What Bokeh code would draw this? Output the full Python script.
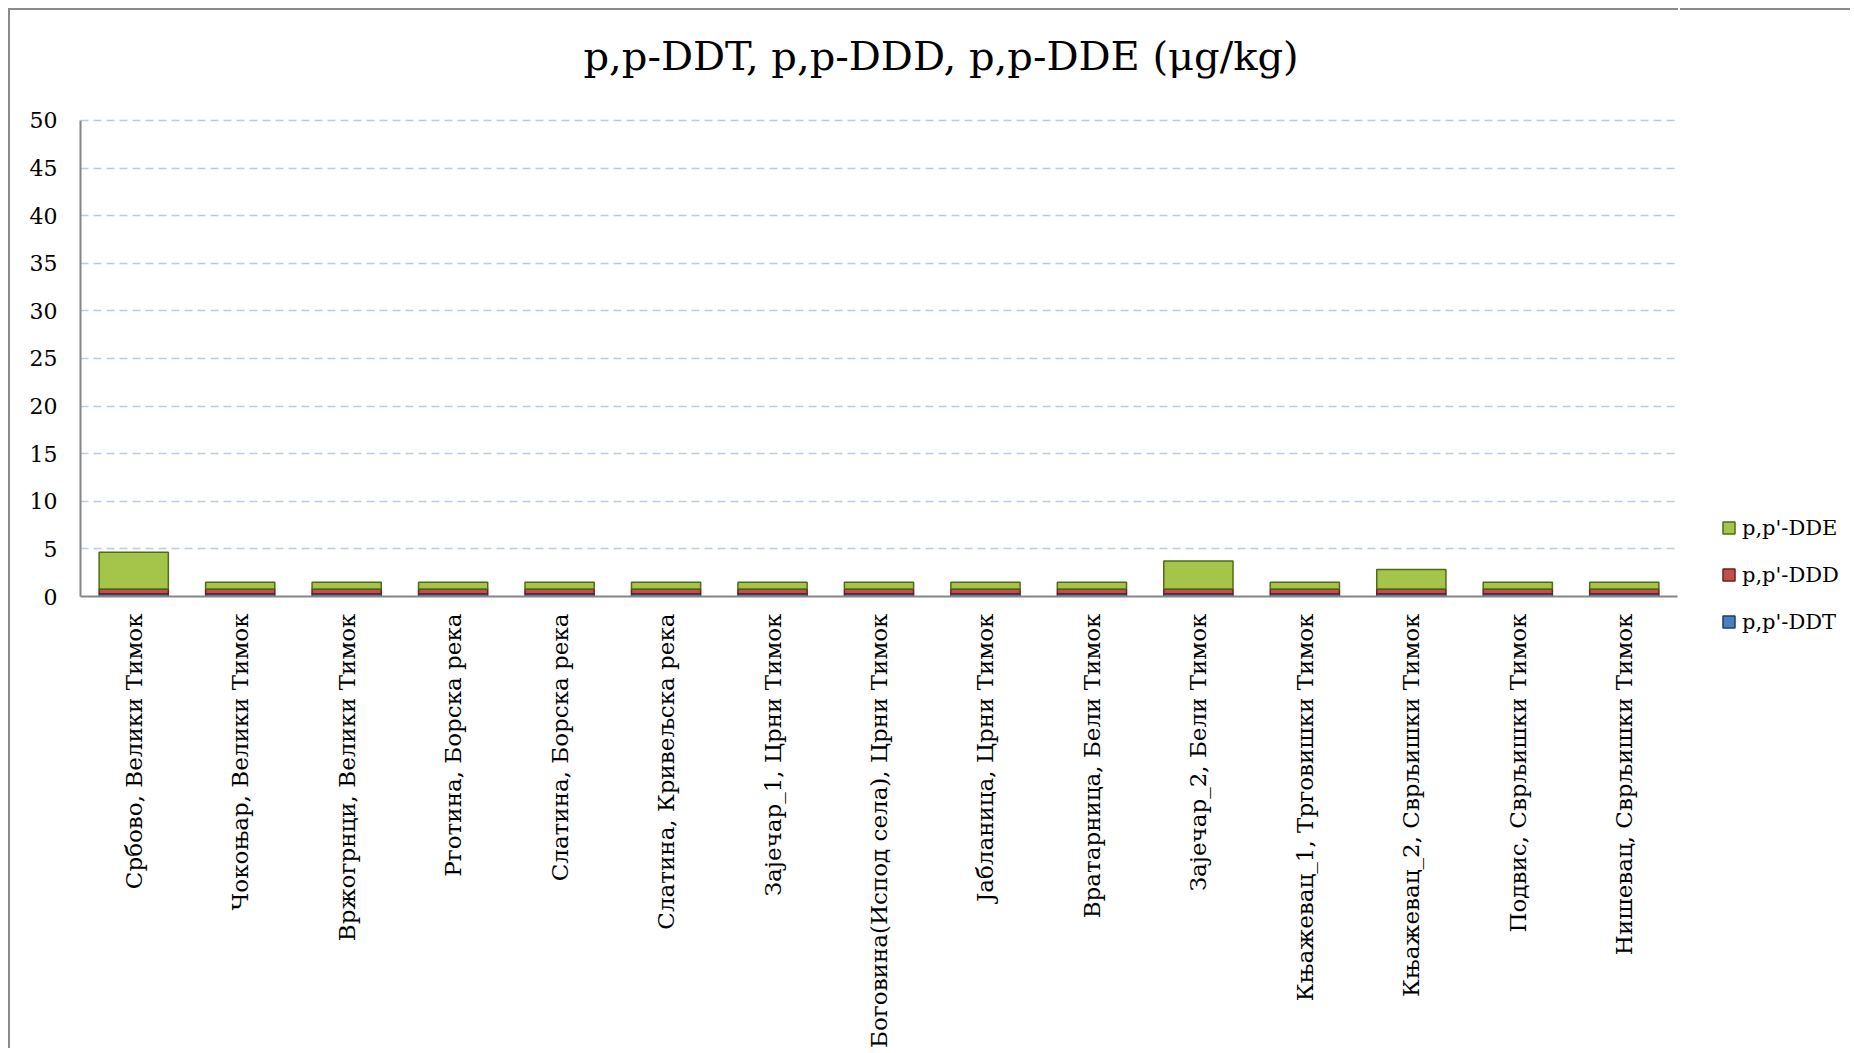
import math
from bokeh.plotting import figure
from bokeh.models import (FactorRange, Range1d, Legend, LegendItem, Title,
                          FixedTicker, ColumnDataSource)
from bokeh.embed import file_html
from bokeh.resources import INLINE

sites = [
    "Србово, Велики Тимок",
    "Чокоњар, Велики Тимок",
    "Вржогрнци, Велики Тимок",
    "Рготина, Борска река",
    "Слатина, Борска река",
    "Слатина, Кривељска река",
    "Зајечар_1, Црни Тимок",
    "Боговина(Испод села), Црни Тимок",
    "Јабланица, Црни Тимок",
    "Вратарница, Бели Тимок",
    "Зајечар_2, Бели Тимок",
    "Књажевац_1, Трговишки Тимок",
    "Књажевац_2, Сврљишки Тимок",
    "Подвис, Сврљишки Тимок",
    "Нишевац, Сврљишки Тимок",
]
ddt = [0.3, 0.3, 0.3, 0.3, 0.3, 0.3, 0.3, 0.3, 0.3, 0.3, 0.3, 0.3, 0.3, 0.3, 0.3]
ddd = [0.5, 0.5, 0.5, 0.5, 0.5, 0.5, 0.5, 0.5, 0.5, 0.5, 0.5, 0.5, 0.5, 0.5, 0.5]
dde = [3.85, 0.7, 0.7, 0.7, 0.7, 0.7, 0.7, 0.7, 0.7, 0.7, 2.92, 0.7, 2.04, 0.7, 0.7]
series = ["p,p'-DDT", "p,p'-DDD", "p,p'-DDE"]
y_ticks = [0, 5, 10, 15, 20, 25, 30, 35, 40, 45, 50]
title_text = "p,p-DDT, p,p-DDD, p,p-DDE (μg/kg)"

SERIF = "DejaVu Serif"
FILLS = ["#4a7ebf", "#c0504d", "#a4c54a"]
LINES = ["#1f3c66", "#6e1f1c", "#4f6b17"]

src = ColumnDataSource(dict(site=sites, ddt=ddt, ddd=ddd, dde=dde))

p = figure(x_range=FactorRange(*sites, range_padding=0),
           y_range=Range1d(0, 50.2),
           width=1670, height=1040,
           output_backend="svg", toolbar_location=None,
           min_border_left=70, min_border_right=3,
           min_border_top=108, min_border_bottom=453)
p.title.visible = False

# spacer then title (later added sits further from frame)
p.add_layout(Title(text=" ", text_font_size="21px"), "above")
p.add_layout(Title(text=title_text, align="left", offset=503, text_font=SERIF,
                   text_font_size="40px", text_font_style="normal",
                   text_color="#000000"), "above")

p.outline_line_color = None
p.background_fill_color = "white"
p.border_fill_color = "white"
p.styles = {"margin-left": "8px", "margin-top": "8px",
            "border-top": "2px solid #8a8a8a", "border-left": "2px solid #8a8a8a"}

rs = p.vbar_stack(["ddt", "ddd", "dde"], x="site", width=0.65, source=src,
                  fill_color=FILLS, line_color=LINES, line_width=1.5)

p.xgrid.grid_line_color = None
p.ygrid.grid_line_color = "#b8cce4"
p.ygrid.grid_line_dash = "8 5"
p.ygrid.grid_line_width = 1.5
p.ygrid.ticker = FixedTicker(ticks=y_ticks[1:])

p.yaxis.ticker = FixedTicker(ticks=y_ticks)
p.yaxis.bounds = (y_ticks[0], y_ticks[-1])
p.yaxis.axis_line_color = "#868686"
p.yaxis.axis_line_width = 2
p.yaxis.major_tick_in = 0
p.yaxis.major_tick_out = 0
p.yaxis.minor_tick_line_color = None
p.yaxis.major_label_text_font = SERIF
p.yaxis.major_label_text_font_size = "22px"
p.yaxis.major_label_text_color = "#000000"
p.yaxis.major_label_standoff = 23

p.xaxis.axis_line_color = "#868686"
p.xaxis.axis_line_width = 2
p.xaxis.major_tick_in = 0
p.xaxis.major_tick_out = 0
p.xaxis.major_label_orientation = math.pi / 2
p.xaxis.major_label_text_font = SERIF
p.xaxis.major_label_text_font_size = "23px"
p.xaxis.major_label_text_color = "#000000"
p.xaxis.major_label_standoff = 17

# legend lives in a narrow companion figure placed to the right; its series
# are the same stacked bars, kept out of its visible y window
lg = figure(width=170, height=1040, x_range=FactorRange(*sites),
            y_range=Range1d(1000, 1001),
            output_backend="svg", toolbar_location=None,
            x_axis_location=None, y_axis_location=None,
            min_border=0, min_border_left=0, min_border_right=0,
            min_border_top=0, min_border_bottom=0)
lg.title.visible = False
lg.outline_line_color = None
lg.xgrid.visible = False
lg.ygrid.visible = False
lg.styles = {"position": "absolute", "left": "1680px", "top": "8px",
             "border-top": "2px solid #8a8a8a"}
lrs = lg.vbar_stack(["ddt", "ddd", "dde"], x="site", width=0.65, source=src,
                    fill_color=FILLS, line_color=LINES, line_width=1.5)
legend = Legend(items=[LegendItem(label=series[2], renderers=[lrs[2]]),
                       LegendItem(label=series[1], renderers=[lrs[1]]),
                       LegendItem(label=series[0], renderers=[lrs[0]])],
                location=(41, 416), orientation="vertical",
                glyph_width=15, glyph_height=15, label_standoff=6,
                label_text_font=SERIF, label_text_font_size="21px",
                label_text_color="#000000",
                label_height=25, spacing=22, padding=0, margin=0,
                border_line_color=None, background_fill_alpha=0)
lg.add_layout(legend, "center")

open("out.html", "w").write(file_html([p, lg], INLINE))
